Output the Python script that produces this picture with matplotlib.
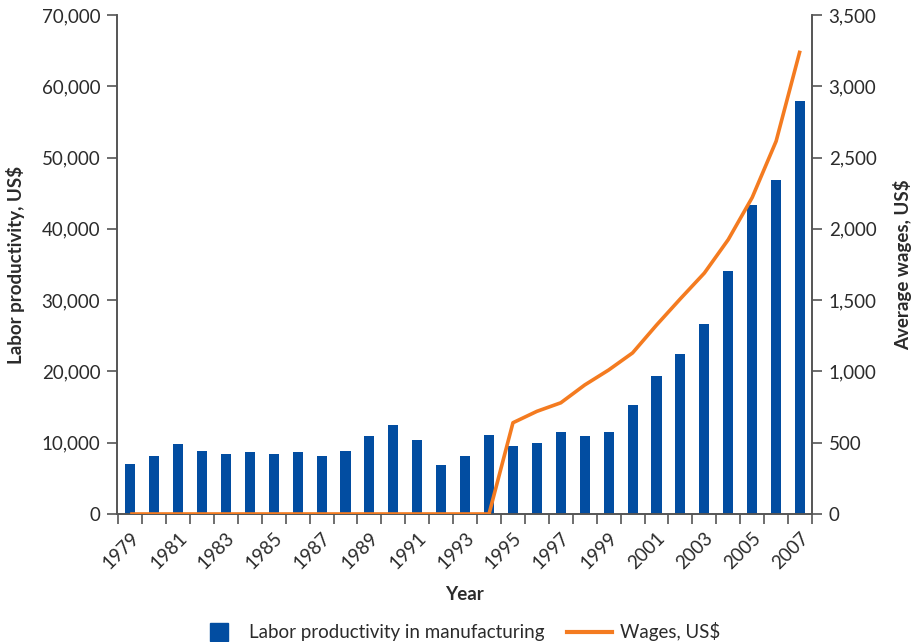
import matplotlib.pyplot as plt
from matplotlib.lines import Line2D
import numpy as np

plt.rcParams['font.family'] = ['Lato', 'DejaVu Sans']

years = list(range(1979, 2008))
productivity = [7000, 8200, 9800, 8900, 8400, 8650, 8400, 8700, 8100, 8800,
                10950, 12500, 10400, 6900, 8200, 11050, 9600, 10000, 11500, 10900,
                11500, 15300, 19300, 22400, 26700, 34100, 43400, 46900, 58000]
wages = [0, 0, 0, 0, 0, 0, 0, 0, 0, 0, 0, 0, 0, 0, 0, 0,
         640, 720, 780, 905, 1010, 1130, 1325, 1510, 1690, 1925, 2220, 2615, 3250]

blue = '#024DA1'
orange = '#F47B20'
dark = '#2b2b2b'
spine = '#555555'
fs = 13.5

fig = plt.figure(figsize=(9.17, 6.42), dpi=100)
ax = fig.add_axes([0.1276, 0.1994, 0.7579, 0.7772])
ax2 = ax.twinx()

x = np.arange(len(years))
ax.bar(x, productivity, width=0.42, color=blue, zorder=2)
ax2.plot(x, wages, color=orange, lw=2.6, zorder=3, solid_capstyle='butt')

ax.set_xlim(-0.55, len(years) - 0.5)
ax.set_ylim(0, 70000)
ax2.set_ylim(0, 3500)

ax.set_yticks(np.arange(0, 70001, 10000))
ax.set_yticklabels([f'{v:,}' for v in range(0, 70001, 10000)])
ax2.set_yticks(np.arange(0, 3501, 500))
ax2.set_yticklabels([f'{v:,}' for v in range(0, 3501, 500)])

# year boundaries as ticks, labels every other year in the middle of the bar
ax.set_xticks(np.arange(-0.5, len(years), 1.0))
ax.set_xticklabels([])
ax.set_xticks(x[::2], minor=True)
ax.set_xticklabels([str(y) for y in years[::2]], minor=True, rotation=45, ha='right',
                   rotation_mode='anchor')
ax.tick_params(axis='x', which='minor', length=0, pad=11, labelsize=fs, labelcolor=dark)
ax.tick_params(axis='x', which='major', length=7, color=spine, width=1.2)
ax.tick_params(axis='y', length=7, color=spine, width=1.2, pad=5, labelsize=fs, labelcolor=dark)
ax2.tick_params(axis='y', length=7, color=spine, width=1.2, pad=5, labelsize=fs, labelcolor=dark)

for a in (ax, ax2):
    a.spines['top'].set_visible(False)
    for s in ('left', 'right', 'bottom'):
        a.spines[s].set_color(spine)
        a.spines[s].set_linewidth(1.2)

ax.set_xlabel('Year', fontsize=fs, fontweight='bold', color=dark, labelpad=10)
ax.set_ylabel('Labor productivity, US$', fontsize=fs, fontweight='bold', color=dark, labelpad=12)
ax2.set_ylabel('Average wages, US$', fontsize=fs, fontweight='bold', color=dark, labelpad=12)

handles = [Line2D([], [], marker='s', markersize=13, color=blue, linestyle='none'),
           Line2D([], [], color=orange, lw=3)]
fig.legend(handles, ['Labor productivity in manufacturing', 'Wages, US$'],
           loc='lower center', bbox_to_anchor=(0.5, -0.025), ncol=2, frameon=False,
           fontsize=fs, handlelength=2.4, handletextpad=0.4, columnspacing=1.2,
           labelcolor=dark)

fig.savefig('out.png', dpi=100)
